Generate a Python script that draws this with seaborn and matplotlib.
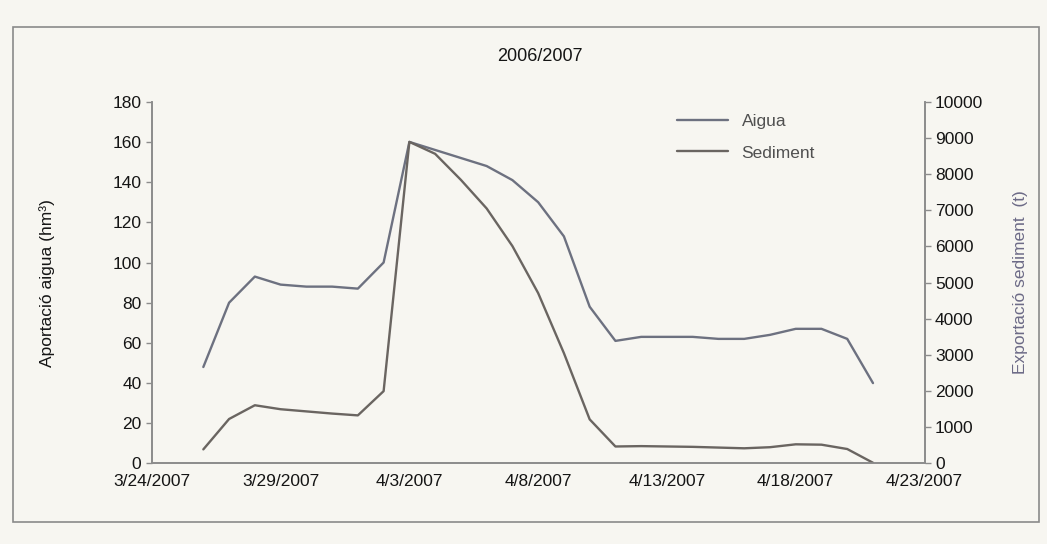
import pandas as pd
import matplotlib.pyplot as plt
import matplotlib.patches as patches
import seaborn as sns

# dades diaries 26/3/2007 - 21/4/2007
dates = pd.date_range('2007-03-26', '2007-04-21', freq='D')
aigua = [48, 80, 93, 89, 88, 88, 87, 100, 160, 156, 152, 148, 141, 130, 113, 78,
         61, 63, 63, 63, 62, 62, 64, 67, 67, 62, 40]
sediment = [390, 1230, 1610, 1500, 1440, 1380, 1330, 2000, 8890, 8560, 7840, 7050,
            6010, 4710, 3050, 1220, 470, 480, 470, 460, 440, 420, 450, 530, 520, 400, 20]

tick_dates = pd.to_datetime(['2007-03-24', '2007-03-29', '2007-04-03', '2007-04-08',
                             '2007-04-13', '2007-04-18', '2007-04-23'])
tick_labels = ['3/24/2007', '3/29/2007', '4/3/2007', '4/8/2007', '4/13/2007', '4/18/2007', '4/23/2007']

sns.set_style('white')
plt.rcParams['font.family'] = ['Liberation Sans', 'DejaVu Sans']

df = pd.DataFrame({'data': dates, 'Aigua': aigua, 'Sediment': sediment})

bg = '#f7f6f1'
fig = plt.figure(figsize=(10.47, 5.44), dpi=100, facecolor=bg)
ax = fig.add_axes([0.145, 0.148, 0.738, 0.665])
ax.set_facecolor(bg)
ax2 = ax.twinx()

sns.lineplot(data=df, x='data', y='Aigua', ax=ax, color='#6d7180', lw=1.7, legend=False)
sns.lineplot(data=df, x='data', y='Sediment', ax=ax2, color='#6a6561', lw=1.7, legend=False)

ax.set_xlim(tick_dates[0], tick_dates[-1])
ax.set_ylim(0, 180)
ax2.set_ylim(0, 10000)
ax.set_yticks(range(0, 181, 20))
ax2.set_yticks(range(0, 10001, 1000))
ax.set_xticks(tick_dates)
ax.set_xticklabels(tick_labels)

for a in (ax, ax2):
    for s in a.spines.values():
        s.set_color('#8c8c8c')
        s.set_linewidth(1.2)
    a.spines['top'].set_visible(False)
    a.tick_params(length=4, width=1, color='#8c8c8c', labelsize=12.5, labelcolor='#151515', direction='out')

ax.set_xlabel('')
ax.set_ylabel('Aportació aigua (hm³)', fontsize=12.5, color='#151515')
ax.yaxis.set_label_coords(-0.125, 0.5)
ax2.set_ylabel('Exportació sediment  (t)', fontsize=12.5, color='#6c6a86')
ax2.yaxis.set_label_coords(1.115, 0.5)

fig.text(0.516, 0.897, '2006/2007', ha='center', va='center', fontsize=13, color='#151515')

handles = ax.get_lines()[:1] + ax2.get_lines()[:1]
leg = ax2.legend(handles, ['Aigua', 'Sediment'], loc='upper left', bbox_to_anchor=(0.66, 1.01),
                 frameon=False, fontsize=12.5, handlelength=2.9, labelspacing=0.95)
for t in leg.get_texts():
    t.set_color('#505050')

fig.add_artist(patches.Rectangle((0.012, 0.04), 0.98, 0.91, transform=fig.transFigure,
                                 fill=False, ec='#8a8a8a', lw=1.2))

plt.savefig('out.png', dpi=100, facecolor=bg)
